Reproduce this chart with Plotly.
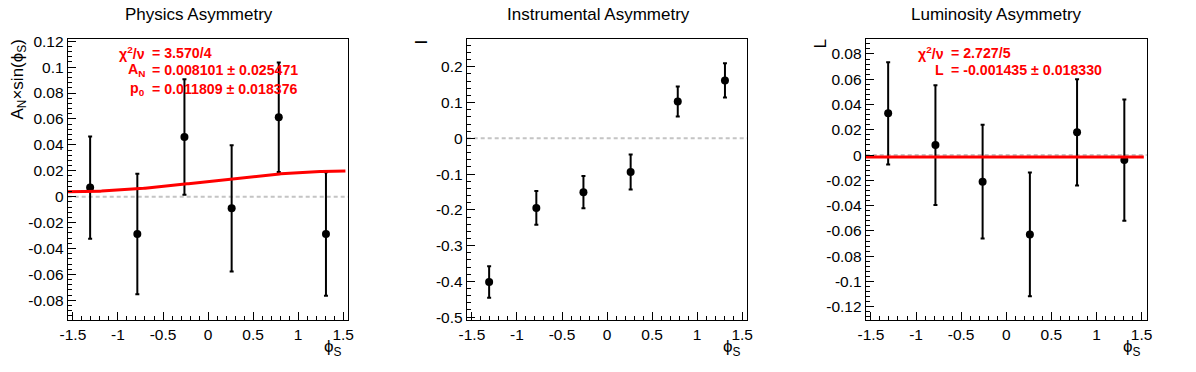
import numpy as np
import plotly.graph_objects as go

# ---------------- data ----------------
phi_s = [-1.309, -0.785, -0.262, 0.262, 0.785, 1.309]

phys_y = [0.0070, -0.0288, 0.0460, -0.0090, 0.0613, -0.0288]
phys_err = [0.0395, 0.0466, 0.0446, 0.0488, 0.0422, 0.0476]

instr_y = [-0.402, -0.1945, -0.1505, -0.094, 0.103, 0.162]
instr_err = [0.044, 0.047, 0.045, 0.049, 0.042, 0.048]

lumi_y = [0.0330, 0.0079, -0.0211, -0.0628, 0.0180, -0.0040]
lumi_err = [0.0405, 0.0474, 0.0450, 0.0490, 0.0420, 0.0480]

# fit results
phys_chi2 = "3.570/4"
phys_AN, phys_AN_err = 0.008101, 0.025471
phys_p0, phys_p0_err = 0.011809, 0.018376
lumi_chi2 = "2.727/5"
lumi_L, lumi_L_err = -0.001435, 0.018330

titles = ["Physics Asymmetry", "Instrumental Asymmetry", "Luminosity Asymmetry"]
y_titles = ["A<sub>N</sub>×sin(ϕ<sub>S</sub>)", "I", "L"]
x_title = "ϕ<sub>S</sub>"

x_ticks = [-1.5, -1.0, -0.5, 0.0, 0.5, 1.0, 1.5]
y1_ticks = [-0.08, -0.06, -0.04, -0.02, 0.0, 0.02, 0.04, 0.06, 0.08, 0.1, 0.12]
y2_ticks = [-0.5, -0.4, -0.3, -0.2, -0.1, 0.0, 0.1, 0.2]
y3_ticks = [-0.12, -0.1, -0.08, -0.06, -0.04, -0.02, 0.0, 0.02, 0.04, 0.06, 0.08]

# ---------------- layout geometry (pixels) ----------------
W, H = 1196, 372
FONT = "Liberation Sans, Arial, sans-serif"
frames_x = [(67.7, 348.3), (466.7, 747.3), (865.7, 1146.7)]
frame_top, frame_bot = 39.3, 320.0
x_range = [-1.558, 1.557]
y_ranges = [[-0.0952, 0.1215], [-0.508, 0.277], [-0.1305, 0.0916]]
y_minor = [0.004, 0.02, 0.004]
y_tick_lists = [y1_ticks, y2_ticks, y3_ticks]


def px(x):
    return x / W


def py(y):
    return 1 - y / H


def lab(v):
    return f"{v:g}"


fig = go.Figure()

datasets = [(phys_y, phys_err), (instr_y, instr_err), (lumi_y, lumi_err)]
for i, (yv, ev) in enumerate(datasets):
    sfx = "" if i == 0 else str(i + 1)
    fig.add_trace(go.Scatter(
        x=phi_s, y=yv, mode="markers",
        marker=dict(color="black", size=8, symbol="circle"),
        error_y=dict(type="data", array=ev, visible=True, color="black",
                     thickness=2, width=2),
        xaxis="x" + sfx, yaxis="y" + sfx, showlegend=False,
    ))

# fit curves
fit_x = np.linspace(-np.pi / 2, 1.525, 200)
fig.add_trace(go.Scatter(
    x=fit_x, y=phys_p0 + phys_AN * np.sin(fit_x), mode="lines",
    line=dict(color="red", width=3), xaxis="x", yaxis="y", showlegend=False))
fig.add_trace(go.Scatter(
    x=fit_x, y=np.full_like(fit_x, lumi_L), mode="lines",
    line=dict(color="red", width=3), xaxis="x3", yaxis="y3", showlegend=False))

layout = dict(
    template="none",
    width=W, height=H, autosize=False,
    margin=dict(l=0, r=0, t=0, b=0, autoexpand=False),
    paper_bgcolor="white", plot_bgcolor="white",
    font=dict(family=FONT, size=15, color="black"),
    showlegend=False,
)

shapes = []
annotations = []
for i in range(3):
    sfx = "" if i == 0 else str(i + 1)
    x0, x1 = frames_x[i]
    xa = dict(
        domain=[px(x0), px(x1)], range=x_range, anchor="y" + sfx, automargin=False,
        showline=True, mirror=True, linecolor="black", linewidth=1,
        showgrid=False, zeroline=False,
        tickmode="array", tickvals=x_ticks, ticktext=[lab(v) for v in x_ticks],
        ticks="inside", ticklen=8, tickcolor="black", tickwidth=1,
        tickfont=dict(family=FONT, size=15.5, color="black"),
        minor=dict(tickmode="linear", tick0=0, dtick=0.1, ticks="inside",
                   ticklen=4, tickcolor="black", tickwidth=1, showgrid=False),
    )
    ya = dict(
        domain=[py(frame_bot), py(frame_top)], range=y_ranges[i], anchor="x" + sfx,
        automargin=False,
        showline=True, mirror=True, linecolor="black", linewidth=1,
        showgrid=False, zeroline=False,
        tickmode="array", tickvals=y_tick_lists[i],
        ticktext=[lab(v) for v in y_tick_lists[i]],
        ticks="inside", ticklen=8, tickcolor="black", tickwidth=1,
        tickfont=dict(family=FONT, size=15.5, color="black"),
        minor=dict(tickmode="linear", tick0=0, dtick=y_minor[i], ticks="inside",
                   ticklen=4, tickcolor="black", tickwidth=1, showgrid=False),
    )
    layout["xaxis" + sfx] = xa
    layout["yaxis" + sfx] = ya

    # dashed zero line
    shapes.append(dict(type="line", xref=f"x{sfx} domain", yref="y" + sfx,
                       x0=0, x1=1, y0=0, y1=0, layer="below",
                       line=dict(color="#c4c4c4", width=2, dash="4px,3px")))

    # panel title
    pad_c = (i + 0.5) * W / 3
    annotations.append(dict(text=titles[i], x=px(pad_c), y=py(15), xref="paper", yref="paper",
                            xanchor="center", yanchor="middle", showarrow=False,
                            font=dict(family=FONT, size=17, color="black")))
    # x axis title
    annotations.append(dict(text=x_title, x=px(x1 - 4), y=py(335), xref="paper", yref="paper",
                            xanchor="right", yanchor="top", showarrow=False,
                            font=dict(family=FONT, size=17, color="black")))

# y axis titles
ytitle_x = [18.5, 421, 820]
for i in range(3):
    annotations.append(dict(text=y_titles[i], x=px(ytitle_x[i]), y=py(38), xref="paper", yref="paper",
                            xanchor="center", yanchor="top", textangle=-90, showarrow=False,
                            font=dict(family=FONT, size=17, color="black")))

# fit statistics text
red = dict(family=FONT, size=14.2, color="red", weight="bold")


def stat(label, value, xl, xv, yc):
    annotations.append(dict(text=label, x=px(xl), y=py(yc), xref="paper", yref="paper",
                            xanchor="right", yanchor="middle", showarrow=False, font=red))
    annotations.append(dict(text=value, x=px(xv), y=py(yc), xref="paper", yref="paper",
                            xanchor="left", yanchor="middle", showarrow=False, font=red))


stat("χ<sup>2</sup>/ν", f"= {phys_chi2}", 147, 150, 52.7)
stat("A<sub>N</sub>", f"= {phys_AN:.6f} ± {phys_AN_err:.6f}", 147, 150, 70.5)
stat("p<sub>0</sub>", f"= {phys_p0:.6f} ± {phys_p0_err:.6f}", 147, 150, 88.5)
stat("χ<sup>2</sup>/ν", f"= {lumi_chi2}", 946, 949, 52.7)
stat("L", f"= {lumi_L:.6f} ± {lumi_L_err:.6f}", 946, 949, 70.5)

layout["shapes"] = shapes
layout["annotations"] = annotations
fig.update_layout(**layout)

fig.write_html(
    "out.html",
    config={"displayModeBar": False},
    post_script="document.body.style.margin='0';document.body.style.padding='0';",
)
